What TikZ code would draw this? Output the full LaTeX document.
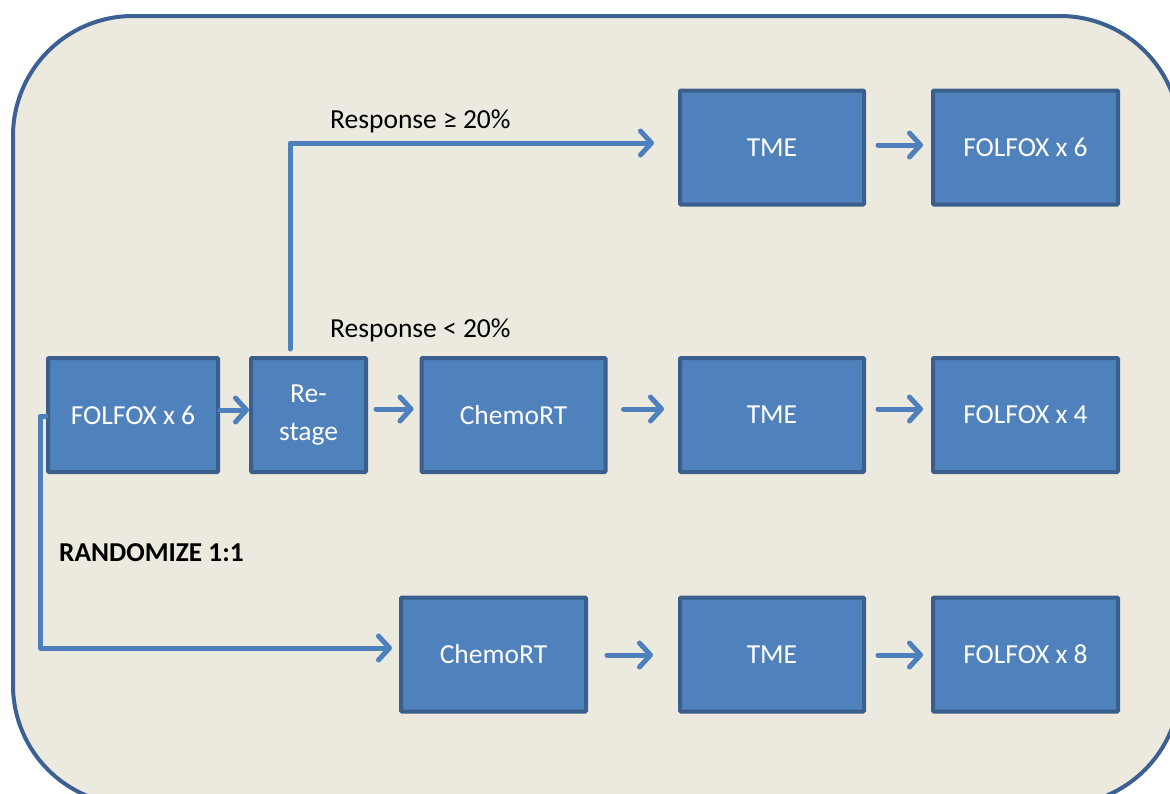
\documentclass[tikz,border=0pt]{standalone}
\usepackage{fontspec}
\setmainfont{Carlito}
\usetikzlibrary{arrows.meta}
\definecolor{frameblue}{HTML}{3B6091}
\definecolor{bgbeige}{HTML}{ECE9DF}
\definecolor{boxfill}{HTML}{4F81BD}
\definecolor{boxedge}{HTML}{3A5F8C}
\definecolor{arrowblue}{HTML}{4E80BD}
\tikzset{
  x=1pt, y=-1pt,
  stepbox/.style={draw=boxedge, line width=4pt, fill=boxfill, text=white, font=\fontsize{27.5}{38}\selectfont, align=center, inner sep=0pt, rounded corners=1pt},
  flow/.style={draw=arrowblue, line width=5pt, line cap=round, line join=round, -{Straight Barb[length=11pt,width=24pt,round]}},
  lbl/.style={font=\fontsize{27.5}{32}\selectfont, text=black, inner sep=0pt}
}
\begin{document}
\begin{tikzpicture}
\useasboundingbox (0,0) rectangle (1170,793);
\draw[frameblue, fill=bgbeige, line width=4pt, rounded corners=120pt] (13,16) rectangle (1180,805);
% boxes
\node[stepbox, minimum width=170pt, minimum height=114pt] (f6) at (133,415) {FOLFOX x 6};
\node[stepbox, minimum width=115pt, minimum height=114pt] (rs) at (308.5,415) {Re-\\stage};
\node[stepbox, minimum width=184pt, minimum height=114pt] (crt) at (513.5,415) {ChemoRT};
\node[stepbox, minimum width=184pt, minimum height=114pt] (tme) at (772,415) {TME};
\node[stepbox, minimum width=185pt, minimum height=114pt] (f4) at (1025.5,415) {FOLFOX x 4};
\node[stepbox, minimum width=184pt, minimum height=114pt] (tmet) at (772,147.5) {TME};
\node[stepbox, minimum width=185pt, minimum height=114pt] (f6t) at (1025.5,147.5) {FOLFOX x 6};
\node[stepbox, minimum width=185pt, minimum height=114pt] (crtb) at (493.5,654.5) {ChemoRT};
\node[stepbox, minimum width=184pt, minimum height=114pt] (tmeb) at (772,654.5) {TME};
\node[stepbox, minimum width=185pt, minimum height=114pt] (f8) at (1025.5,654.5) {FOLFOX x 8};
% labels
\node[lbl, anchor=west] (l1) at (330,121) {Response ≥ 20\%};
\node[lbl, anchor=west] (l2) at (330,330) {Response < 20\%};
\node[lbl, anchor=west, font=\fontsize{27.3}{32}\selectfont\bfseries] (l3) at (59,553) {RANDOMIZE 1:1};
% short arrows
\coordinate (a1s) at (222,410);
\draw[flow] (f6.east |- a1s) -- (rs.west |- a1s);
\draw[flow] (376,409) -- ([xshift=-6pt]crt.west |- 0,409);
\draw[flow] ([xshift=16pt]crt.east |- 0,409) -- ([xshift=-14pt]tme.west |- 0,409);
\draw[flow] ([xshift=12pt]tme.east |- 0,409) -- ([xshift=-8pt]f4.west |- 0,409);
\draw[flow] ([xshift=12pt]tmet.east |- 0,145) -- ([xshift=-8pt]f6t.west |- 0,145);
\draw[flow] ([xshift=19pt]crtb.east |- 0,655) -- ([xshift=-25pt]tmeb.west |- 0,655);
\draw[flow] ([xshift=12pt]tmeb.east |- 0,655) -- ([xshift=-8pt]f8.west |- 0,655);
% long arrows
\coordinate (up) at (290,143);
\draw[flow] (290,349) -- (up) -- ([xshift=-24pt]tmet.west |- up);
\coordinate (lc) at (40,416);
\coordinate (ld) at (40,648);
\draw[flow] (f6.west |- lc) -- (lc) -- (ld) -- ([xshift=-7pt]crtb.west |- ld);
\end{tikzpicture}
\end{document}
